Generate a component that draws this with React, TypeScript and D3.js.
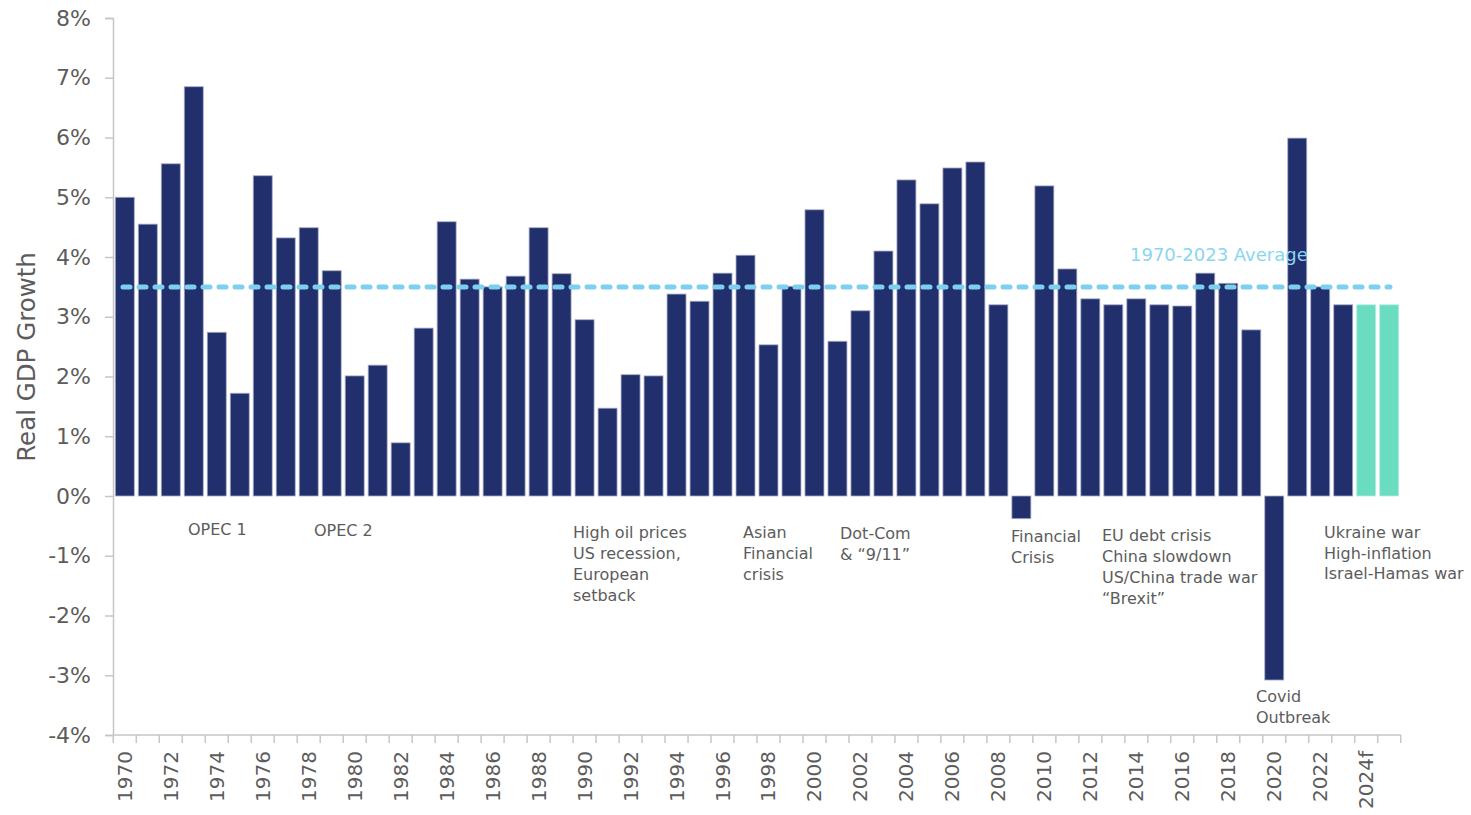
import React, { useEffect, useRef } from 'react'
import * as d3 from 'd3'

// years on the x axis (last two are forecasts)
const years = [
  '1970', '1971', '1972', '1973', '1974', '1975', '1976', '1977', '1978', '1979',
  '1980', '1981', '1982', '1983', '1984', '1985', '1986', '1987', '1988', '1989',
  '1990', '1991', '1992', '1993', '1994', '1995', '1996', '1997', '1998', '1999',
  '2000', '2001', '2002', '2003', '2004', '2005', '2006', '2007', '2008', '2009',
  '2010', '2011', '2012', '2013', '2014', '2015', '2016', '2017', '2018', '2019',
  '2020', '2021', '2022', '2023', '2024', '2025'
]
// real GDP growth, %
const growth = [
  5.0, 4.55, 5.56, 6.85, 2.74, 1.72, 5.36, 4.32, 4.49, 3.77,
  2.01, 2.19, 0.89, 2.81, 4.59, 3.63, 3.5, 3.68, 4.49, 3.72,
  2.95, 1.47, 2.03, 2.01, 3.38, 3.26, 3.73, 4.03, 2.53, 3.51,
  4.79, 2.59, 3.1, 4.1, 5.29, 4.89, 5.49, 5.59, 3.2, -0.38,
  5.19, 3.8, 3.3, 3.2, 3.3, 3.2, 3.18, 3.73, 3.56, 2.78,
  -3.08, 5.99, 3.5, 3.2, 3.2, 3.2
]
const forecastYears = ['2024', '2025']
const yTicks = [-4, -3, -2, -1, 0, 1, 2, 3, 4, 5, 6, 7, 8]
const average = 3.5
const averageLabel = '1970-2023 Average'
const yTitle = 'Real GDP Growth'

const events = [
  { lines: ['OPEC 1'] },
  { lines: ['OPEC 2'] },
  { lines: ['High oil prices', 'US recession,', 'European', 'setback'] },
  { lines: ['Asian', 'Financial', 'crisis'] },
  { lines: ['Dot-Com', '& \u201c9/11\u201d'] },
  { lines: ['Financial', 'Crisis'] },
  { lines: ['EU debt crisis', 'China slowdown', 'US/China trade war', '\u201cBrexit\u201d'] },
  { lines: ['Covid', 'Outbreak'] },
  { lines: ['Ukraine war', 'High-inflation', 'Israel-Hamas war'] }
]
// where each event label sits (x, first baseline, line gap)
const eventPos = [
  [188, 535, 21], [314, 536, 21], [573, 538, 21], [743, 538, 21], [840, 539, 21],
  [1011, 542, 21], [1102, 541, 21], [1256, 702, 21], [1324, 538, 20.5]
]

const FONT = '"DejaVu Sans", sans-serif'
const GREY = '#5c5c5c'

const App = () => {
  const svgRef = useRef<SVGSVGElement>(null)

  useEffect(() => {
    const svg = d3.select(svgRef.current)
    svg.selectAll('*').remove()

    const left = 113, right = 1401, top = 18, bottom = 735

    const x = d3.scaleBand().domain(years).range([left, right])
      .paddingInner(0.174).paddingOuter(0.1)
    const y = d3.scaleLinear().domain([-4, 8]).range([bottom, top])

    //y axis
    const yAxis = svg.append('g')
      .attr('transform', `translate(${left},0)`)
      .call(d3.axisLeft(y).tickValues(yTicks).tickSize(8).tickPadding(14)
        .tickFormat(d => `${d}%`))
    yAxis.select('.domain').attr('stroke', '#c6c6c6').attr('stroke-width', 1.5)
    yAxis.selectAll('.tick line').attr('stroke', '#c6c6c6').attr('stroke-width', 1.5)
    yAxis.selectAll('.tick text')
      .style('font-family', FONT).style('font-size', '22px').attr('fill', GREY)

    //x axis line + boundary ticks
    const step = x.step()
    const gap = step * x.paddingInner()
    svg.append('line')
      .attr('x1', left).attr('x2', right).attr('y1', bottom).attr('y2', bottom)
      .attr('stroke', '#c6c6c6').attr('stroke-width', 1.5)
    const bounds = years.map(d => (x(d) as number) - gap / 2)
    bounds.push((x(years[years.length - 1]) as number) + x.bandwidth() + gap / 2)
    svg.selectAll('.xtick')
      .data(bounds)
      .join('line')
      .attr('x1', d => d).attr('x2', d => d)
      .attr('y1', bottom).attr('y2', bottom + 8)
      .attr('stroke', '#c6c6c6').attr('stroke-width', 1.5)

    //x labels every other year
    svg.selectAll('.xlab')
      .data(years.filter((d, i) => i % 2 === 0))
      .join('text')
      .text(d => (forecastYears.includes(d) ? d + 'f' : d))
      .attr('transform', d => `translate(${(x(d) as number) + x.bandwidth() / 2 + 7},${bottom + 16}) rotate(-90)`)
      .attr('text-anchor', 'end')
      .style('font-family', FONT).style('font-size', '20px').attr('fill', GREY)

    //bars
    svg.selectAll('.bar')
      .data(years.map((d, i) => ({ year: d, value: growth[i] })))
      .join('rect')
      .attr('x', d => x(d.year) as number)
      .attr('width', x.bandwidth())
      .attr('y', d => y(Math.max(0, d.value)))
      .attr('height', d => Math.abs(y(d.value) - y(0)))
      .attr('fill', d => (forecastYears.includes(d.year) ? '#6adcc0' : '#21306d'))
      .attr('stroke', d => (forecastYears.includes(d.year) ? '#b8eedf' : '#a9adc4'))
      .attr('stroke-width', 0.8)

    //average line
    svg.append('line')
      .attr('x1', left + 10).attr('x2', right - 11)
      .attr('y1', y(average)).attr('y2', y(average))
      .attr('stroke', '#7dcff0').attr('stroke-width', 5)
      .attr('stroke-linecap', 'round')
      .attr('stroke-dasharray', '7 9')
    svg.append('text')
      .text(averageLabel)
      .attr('x', 1130).attr('y', 261)
      .style('font-family', FONT).style('font-size', '18px').attr('fill', '#8ad6f2')

    //y title
    svg.append('text')
      .text(yTitle)
      .attr('transform', 'translate(35,357) rotate(-90)')
      .attr('text-anchor', 'middle')
      .style('font-family', FONT).style('font-size', '24.5px').attr('fill', GREY)

    //event labels
    events.forEach((ev, i) => {
      const [ex, ey, lh] = eventPos[i]
      const t = svg.append('text')
        .style('font-family', FONT).style('font-size', '16px').attr('fill', GREY)
      ev.lines.forEach((ln, j) => {
        t.append('tspan').attr('x', ex).attr('y', ey + j * lh).text(ln)
      })
    })
  }, [])

  return (
    <div style={{ position: 'absolute', left: 0, top: 0 }}>
      <svg ref={svgRef} width={1471} height={815} style={{ display: 'block', background: '#fff' }}></svg>
    </div>
  )
}

export default App
